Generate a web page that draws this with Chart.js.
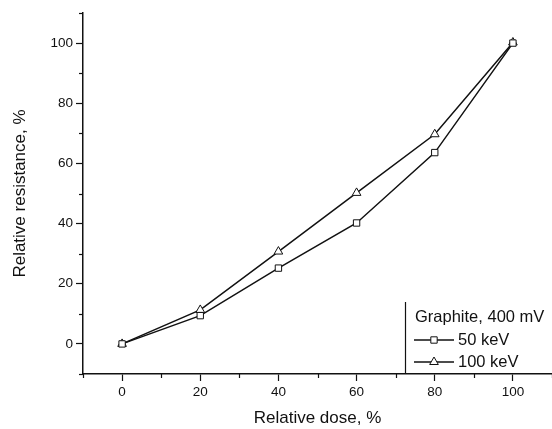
<!DOCTYPE html>
<html>
<head>
<meta charset="utf-8">
<script src="https://cdn.jsdelivr.net/npm/chart.js@4.4.0/dist/chart.umd.min.js"></script>
<style>
    html, body { margin: 0; padding: 0; background: #fff; }
</style>
</head>
<body>
<canvas id="chart" width="552" height="429"></canvas>
<script>
// values
const doses = [0, 20, 40, 60, 80, 100]
const kev50 = [0, 9.4, 25.2, 40.2, 63.6, 100]
const kev100 = [0, 11.3, 30.7, 50.2, 69.7, 100.2]
const seriesNames = ['50 keV', '100 keV']
const legendTitle = 'Graphite, 400 mV'
const xTitle = 'Relative dose, %'
const yTitle = 'Relative resistance, %'

const FONT = "'Liberation Sans', Arial, sans-serif"

function toPoints(values) {
    return doses.map((d, i) => ({ x: d, y: values[i] }))
}

// short minor ticks at odd multiples of 10
const minorTicks = {
    id: 'minorTicks',
    afterDraw(chart) {
        const ctx = chart.ctx
        const xs = chart.scales.x
        const ys = chart.scales.y
        ctx.save()
        ctx.strokeStyle = '#111'
        ctx.lineWidth = 1.2
        for (let v = -10; v <= 110; v += 20) {
            const px = Math.round(xs.getPixelForValue(v)) + 0.5
            ctx.beginPath()
            ctx.moveTo(px, ys.bottom)
            ctx.lineTo(px, ys.bottom + 4)
            ctx.stroke()
            const py = Math.round(ys.getPixelForValue(v)) + 0.5
            ctx.beginPath()
            ctx.moveTo(xs.left - 4, py)
            ctx.lineTo(xs.left, py)
            ctx.stroke()
        }
        ctx.restore()
    }
}

// legend box in the lower right, line with the marker in the middle
const boxLegend = {
    id: 'boxLegend',
    afterDraw(chart) {
        const ctx = chart.ctx
        const area = chart.chartArea
        const left = area.right - 147
        const top = area.bottom - 72
        ctx.save()
        ctx.strokeStyle = '#111'
        ctx.lineWidth = 1.2
        ctx.beginPath()
        ctx.moveTo(left + 0.5, top)
        ctx.lineTo(left + 0.5, area.bottom)
        ctx.stroke()
        ctx.fillStyle = '#111'
        ctx.font = '16.5px ' + FONT
        ctx.textBaseline = 'middle'
        ctx.fillText(legendTitle, left + 10, top + 15)
        chart.data.datasets.forEach((ds, i) => {
            const y = top + 38 + i * 22
            ctx.strokeStyle = ds.borderColor
            ctx.lineWidth = ds.borderWidth
            ctx.beginPath()
            ctx.moveTo(left + 9, y)
            ctx.lineTo(left + 49, y)
            ctx.stroke()
            ctx.fillStyle = '#fff'
            ctx.strokeStyle = '#111'
            ctx.lineWidth = 1
            Chart.helpers.drawPoint(ctx, {
                pointStyle: ds.pointStyle,
                radius: ds.pointRadius,
                borderWidth: 1,
                rotation: 0
            }, left + 29, y)
            ctx.fillStyle = '#111'
            ctx.fillText(ds.label, left + 53, y)
        })
        ctx.restore()
    }
}

const isMajor = v => v >= 0 && v <= 100 && v % 20 === 0

function axis(title, titlePad, fit) {
    return {
        type: 'linear',
        min: -10,
        max: 110,
        ticks: {
            stepSize: 10,
            color: '#111',
            font: { family: FONT, size: 13.5 },
            padding: 3,
            callback: v => isMajor(v) ? v : ''
        },
        grid: {
            drawOnChartArea: false,
            drawTicks: true,
            tickLength: 7,
            tickWidth: 1.2,
            tickColor: c => isMajor(c.tick.value) ? '#111' : 'rgba(0,0,0,0)'
        },
        border: { display: true, color: '#111', width: 1.5 },
        title: {
            display: true,
            text: title,
            color: '#111',
            font: { family: FONT, size: 17 },
            padding: titlePad
        },
        afterFit: fit
    }
}

const ctx = document.getElementById('chart').getContext('2d')
new Chart(ctx, {
    type: 'line',
    data: {
        datasets: [{
            label: seriesNames[0],
            data: toPoints(kev50),
            borderColor: '#111',
            borderWidth: 1.5,
            pointStyle: 'rect',
            pointRadius: 4.5,
            pointBorderWidth: 1,
            pointBackgroundColor: '#fff',
            pointBorderColor: '#111',
            tension: 0
        }, {
            label: seriesNames[1],
            data: toPoints(kev100),
            borderColor: '#111',
            borderWidth: 1.5,
            pointStyle: 'triangle',
            pointRadius: 5,
            pointBorderWidth: 1,
            pointBackgroundColor: '#fff',
            pointBorderColor: '#111',
            tension: 0
        }]
    },
    options: {
        responsive: false,
        animation: false,
        layout: { autoPadding: false, padding: { top: 13, right: 0, left: 0, bottom: 0 } },
        scales: {
            x: axis(xTitle, { top: 0, bottom: 0 }, s => {
                s.height = 55
                s.paddingLeft = 0
                s.paddingRight = 0
            }),
            y: axis(yTitle, { top: 10, bottom: 0 }, s => {
                s.width = 83
                s.paddingTop = 0
                s.paddingBottom = 0
            })
        },
        plugins: {
            legend: { display: false },
            tooltip: { enabled: false }
        }
    },
    plugins: [minorTicks, boxLegend]
})
</script>
</body>
</html>
